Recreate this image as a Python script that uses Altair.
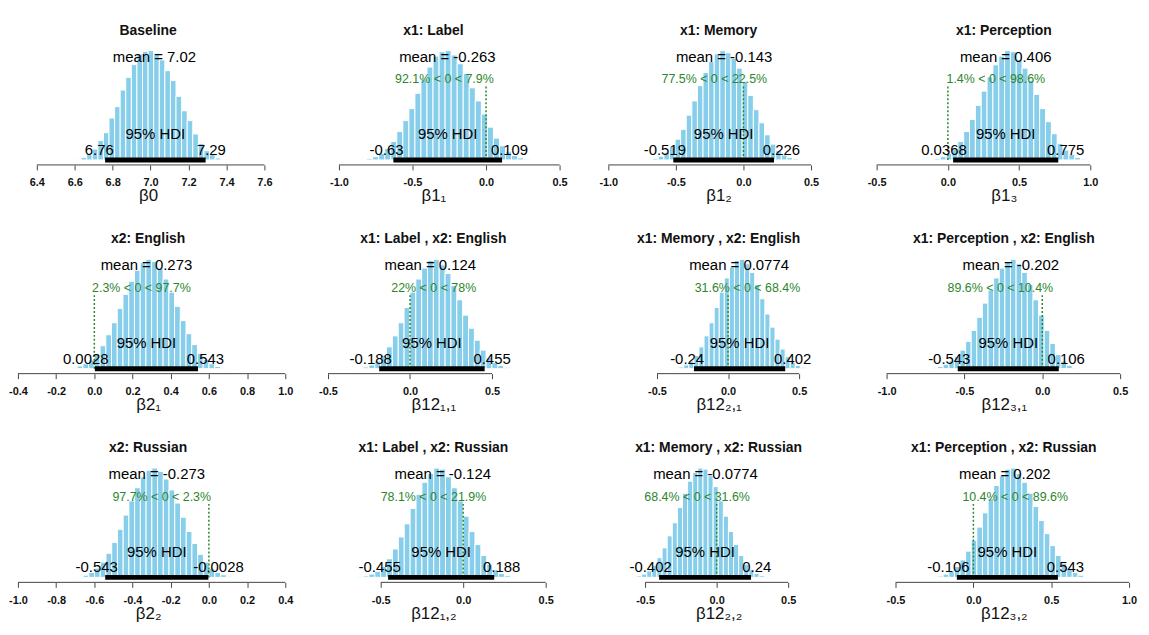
import altair as alt
import pandas as pd

# ---------------- data ----------------
titles = ["Baseline", "x1: Label", "x1: Memory", "x1: Perception",
          "x2: English", "x1: Label , x2: English", "x1: Memory , x2: English",
          "x1: Perception , x2: English",
          "x2: Russian", "x1: Label , x2: Russian", "x1: Memory , x2: Russian",
          "x1: Perception , x2: Russian"]
x_labels = ["β0", "β1₁", "β1₂", "β1₃",
            "β2₁", "β12₁,₁", "β12₂,₁", "β12₃,₁",
            "β2₂", "β12₁,₂", "β12₂,₂", "β12₃,₂"]
means = [7.02, -0.263, -0.143, 0.406, 0.273, 0.124, 0.0774, -0.202,
         -0.273, -0.124, -0.0774, 0.202]
hdi_low = [6.76, -0.63, -0.519, 0.0368, 0.0028, -0.188, -0.24, -0.543,
           -0.543, -0.455, -0.402, -0.106]
hdi_high = [7.29, 0.109, 0.226, 0.775, 0.543, 0.455, 0.402, 0.106,
            -0.0028, 0.188, 0.24, 0.543]
pct_below = [None, 92.1, 77.5, 1.4, 2.3, 22, 31.6, 89.6, 97.7, 78.1, 68.4, 10.4]
pct_above = [None, 7.9, 22.5, 98.6, 97.7, 78, 68.4, 10.4, 2.3, 21.9, 31.6, 89.6]
comp_value = 0

ticks = [
    [6.4, 6.6, 6.8, 7.0, 7.2, 7.4, 7.6],
    [-1.0, -0.5, 0.0, 0.5],
    [-1.0, -0.5, 0.0, 0.5],
    [-0.5, 0.0, 0.5, 1.0],
    [-0.4, -0.2, 0.0, 0.2, 0.4, 0.6, 0.8, 1.0],
    [-0.5, 0.0, 0.5],
    [-0.5, 0.0, 0.5],
    [-1.0, -0.5, 0.0, 0.5],
    [-1.0, -0.8, -0.6, -0.4, -0.2, 0.0, 0.2, 0.4],
    [-0.5, 0.0, 0.5],
    [-0.5, 0.0, 0.5],
    [-0.5, 0.0, 0.5, 1.0],
]
x_limits = [
    [6.2638, 7.7101], [-1.2905, 0.5744], [-1.1985, 0.8309], [-0.5698, 1.3558],
    [-0.4364, 1.0001], [-0.6939, 0.9788], [-1.0315, 0.8986], [-1.1277, 0.6340],
    [-1.0364, 0.4001], [-1.0120, 0.6507], [-0.9444, 0.9723], [-0.6851, 1.0766],
]

# histogram: first break of each panel and relative bar heights (max = 100)
bin_start = [6.604, -0.853, -0.713, -0.135, -0.150, -0.322, -0.383, -0.745,
             -0.689, -0.643, -0.595, -0.266]
hist_b0 = [0.6, 2.4, 4.9, 10, 17.7, 25, 38.4, 48.8, 64, 75.6, 87.2, 97, 99.4, 100,
           97.6, 91.5, 81.7, 72.6, 58.2, 45, 36, 23.8, 15.2, 8.5, 4.9, 1.8, 0.6]
hist_b1_1 = [0.5, 1.5, 3, 6, 10.5, 17, 26, 36, 47, 61, 74, 85, 95, 99, 100, 96, 88,
             79, 66, 54, 42, 30, 20, 13, 7.5, 4, 2, 0.8]
hist_b1_2 = [0.6, 1.5, 3.5, 7, 12, 19, 28, 41, 54, 68, 80, 90, 97, 100, 98, 93, 84,
             72, 59, 46, 34, 23, 14.5, 8.5, 4.5, 2.2, 1, 0.4]
hist_b1_3 = [0.5, 1.2, 3, 6, 10, 17, 26, 37, 50, 63, 76, 87, 95, 100, 99, 92, 84, 73,
             60, 47, 35, 24, 15, 9, 5, 2.2, 0.8]
hist_b2_1 = [0.4, 1, 2.4, 4.5, 8, 14, 21, 31, 42, 55, 68, 80, 90, 97, 100, 98, 92, 82,
             70, 57, 44, 32, 22, 14, 8.5, 4.5, 2, 0.8]
hist_b12_11 = [0.5, 1.5, 3.5, 7, 12, 20, 30, 42, 56, 70, 82, 92, 99, 100, 95, 87, 76,
               63, 49, 37, 26, 17, 10, 5.5, 3, 1.3, 0.5]
hist_b12_21 = [0.5, 1.5, 3.5, 7, 12, 20, 30, 42, 56, 70, 83, 93, 99, 100, 96, 88, 77,
               64, 50, 38, 27, 18, 11, 6, 3, 1.3, 0.5]
hist_b12_31 = [0.4, 1, 2, 4, 7, 11, 17, 25, 35, 47, 60, 72, 83, 92, 98, 100, 96, 88,
               77, 63, 49, 35, 23, 13, 7, 3, 1]
hist_b2_2 = [0.8, 2, 4.5, 8.5, 14, 22, 32, 44, 57, 70, 82, 92, 98, 100, 97, 90, 80, 68,
             55, 42, 31, 21, 14, 8, 4.5, 2.4, 1, 0.4]
hist_b12_12 = [0.5, 1.3, 3, 5.5, 10, 17, 26, 37, 49, 63, 76, 87, 95, 100, 99, 92, 82,
               70, 56, 42, 30, 20, 12, 7, 3.5, 1.5, 0.5]
hist_b12_22 = [0.5, 1.3, 3, 6, 11, 18, 27, 38, 50, 64, 77, 88, 96, 100, 99, 93, 83, 70,
               56, 42, 30, 20, 12, 7, 3.5, 1.5, 0.5]
hist_b12_32 = [0.5, 1.2, 3, 6, 10, 16, 24, 34, 46, 59, 72, 84, 93, 99, 100, 95, 87, 77,
               65, 52, 40, 29, 20, 13, 8, 4.5, 2, 0.8]
histograms = [hist_b0, hist_b1_1, hist_b1_2, hist_b1_3,
              hist_b2_1, hist_b12_11, hist_b12_21, hist_b12_31,
              hist_b2_2, hist_b12_12, hist_b12_22, hist_b12_32]

# ---------------- styling ----------------
FONT = "Liberation Sans"
SKY = "#87CEEB"
GREEN = "#2d862d"
AXIS = "#444444"
PANEL_W, PANEL_H = 276, 125
Y_MIN, Y_MAX = -4.545, 109.09      # bar base sits 5px above the axis line
MEAN_HT, CV_HT, CV_LINE_HT = 90, 70, 67.2

ARIAL = {c: 0.556 for c in "0123456789"}
ARIAL.update({".": 0.278, "%": 0.889, " ": 0.278, "<": 0.584, "-": 0.333})


def text_w(s, size):
    return sum(ARIAL.get(c, 0.556) for c in s) * size


def panel(i):
    xs = alt.Scale(domain=x_limits[i], nice=False, zero=False)
    ys = alt.Scale(domain=[Y_MIN, Y_MAX], nice=False, zero=False)
    xaxis = alt.Axis(
        values=ticks[i], title=x_labels[i], domain=False, grid=False,
        tickSize=5, tickColor=AXIS, tickWidth=1,
        labelExpr="replace(format(datum.value, '.1f'), '\u2212', '-')",
        labelFont=FONT, labelFontSize=11, labelFontWeight="bold", labelColor="#111111",
        labelBaseline="middle", labelPadding=13, labelFlush=False, labelOverlap=False,
        titleFont=FONT, titleFontSize=17, titleFontWeight="normal", titleColor="#111111",
        titleBaseline="middle", titleY=31,
    )

    def X(f):
        return alt.X(f, type="quantitative", scale=xs, axis=xaxis)

    def Y(f):
        return alt.Y(f, type="quantitative", scale=ys, axis=None)

    h = histograms[i]
    bw = (hdi_high[i] - hdi_low[i]) / 18
    bars_df = pd.DataFrame({
        "x0": [bin_start[i] + k * bw for k in range(len(h))],
        "x1": [bin_start[i] + (k + 1) * bw for k in range(len(h))],
        "h": h,
        "y0": [0.0] * len(h),
    })
    lo_lab = f"{hdi_low[i]:g}"
    hi_lab = f"{hdi_high[i]:g}"
    info = pd.DataFrame({
        "lo": [hdi_low[i]], "hi": [hdi_high[i]],
        "mid": [(hdi_low[i] + hdi_high[i]) / 2],
        "mean": [means[i]], "zero": [0.0], "comp": [float(comp_value)],
        "t0": [ticks[i][0]], "t1": [ticks[i][-1]], "ymin": [Y_MIN],
        "mean_ht": [MEAN_HT], "cv_ht": [CV_HT], "cv_line": [CV_LINE_HT],
        "mean_lab": [f"mean = {means[i]:g}"],
        "lo_lab": [lo_lab], "hi_lab": [hi_lab], "hdi_lab": ["95% HDI"],
    })

    layers = []
    layers.append(alt.Chart(bars_df).mark_rect(color=SKY, stroke="white", strokeWidth=1)
                  .encode(x=X("x0"), x2="x1", y=Y("h"), y2="y0"))
    layers.append(alt.Chart(info).mark_text(font=FONT, fontSize=15, align="center",
                                            baseline="alphabetic", color="black")
                  .encode(x=X("mean"), y=Y("mean_ht"), text="mean_lab:N"))
    if pct_below[i] is not None:
        pct = f"{pct_below[i]:g}% < {comp_value:g} < {pct_above[i]:g}%"
        info["pct"] = [pct]
        p_lt = pct_below[i] / 100
        layers.append(alt.Chart(info).mark_rule(color=GREEN, strokeDash=[2, 2], strokeWidth=1.5)
                      .encode(x=X("comp"), y=Y("zero"), y2="cv_line"))
        layers.append(alt.Chart(info).mark_text(font=FONT, fontSize=12.5, align="left",
                                                baseline="alphabetic", color=GREEN,
                                                dx=-p_lt * text_w(pct, 12.5))
                      .encode(x=X("comp"), y=Y("cv_ht"), text="pct:N"))
    layers.append(alt.Chart(info).mark_rule(color="black", strokeWidth=5, strokeCap="butt")
                  .encode(x=X("lo"), x2="hi", y=Y("zero")))
    layers.append(alt.Chart(info).mark_text(font=FONT, fontSize=15, align="center",
                                            baseline="alphabetic", color="black", dy=-20.7)
                  .encode(x=X("mid"), y=Y("zero"), text="hdi_lab:N"))
    layers.append(alt.Chart(info).mark_text(font=FONT, fontSize=15, align="left",
                                            baseline="alphabetic", color="black", dy=-5,
                                            dx=-0.7 * text_w(lo_lab, 15))
                  .encode(x=X("lo"), y=Y("zero"), text="lo_lab:N"))
    layers.append(alt.Chart(info).mark_text(font=FONT, fontSize=15, align="left",
                                            baseline="alphabetic", color="black", dy=-5,
                                            dx=-0.3 * text_w(hi_lab, 15))
                  .encode(x=X("hi"), y=Y("zero"), text="hi_lab:N"))
    layers.append(alt.Chart(info).mark_rule(color=AXIS, strokeWidth=1)
                  .encode(x=X("t0"), x2="t1", y=Y("ymin")))

    return alt.layer(*layers).properties(
        width=PANEL_W, height=PANEL_H,
        title=alt.TitleParams(titles[i], font=FONT, fontSize=14, fontWeight="bold",
                              anchor="middle", baseline="alphabetic", offset=-8,
                              color="#111111"),
    )


chart = alt.concat(*[panel(i) for i in range(12)], columns=4,
                   spacing={"row": 85, "column": 11}, bounds="flush").properties(
    padding={"left": 0, "top": 14, "right": 0, "bottom": 2},
    background="white",
).configure_view(stroke=None)

chart.save("out.html", embed_options={"renderer": "svg", "actions": False})
